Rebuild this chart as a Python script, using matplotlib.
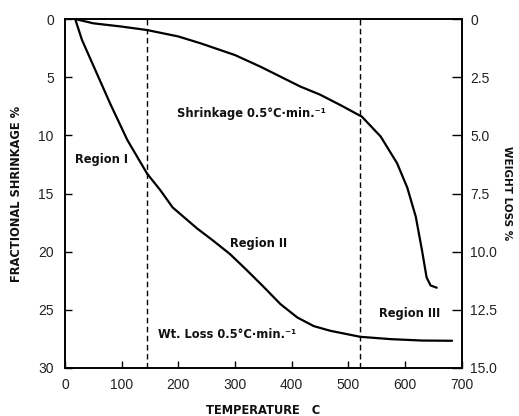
import matplotlib
matplotlib.use("Agg")
import matplotlib.pyplot as plt

# shrinkage curve (left axis, %)
shrink_temp = [18, 50, 100, 145, 200, 240, 300, 345, 415, 450, 486, 524, 557,
               586, 604, 619, 630, 638, 645, 656]
shrink_pct = [0, 0.37, 0.65, 0.95, 1.5, 2.1, 3.1, 4.1, 5.8, 6.5, 7.4, 8.4, 10.1,
              12.4, 14.5, 17.0, 19.9, 22.2, 22.9, 23.1]

# weight loss curve (right axis, %)
wt_temp = [18, 30, 50, 80, 110, 145, 168, 190, 233, 260, 291, 321, 350, 380,
           410, 439, 468, 521, 575, 630, 683]
wt_pct = [0, 0.9, 2.0, 3.65, 5.2, 6.65, 7.35, 8.1, 9.0, 9.5, 10.1, 10.8, 11.5, 12.25,
          12.83, 13.2, 13.4, 13.66, 13.76, 13.82, 13.83]

region_bounds = [145, 520]

x_ticks = [0, 100, 200, 300, 400, 500, 600, 700]
left_ticks = [0, 5, 10, 15, 20, 25, 30]
right_ticks = [0, 2.5, 5.0, 7.5, 10.0, 12.5, 15.0]
right_labels = ["0", "2.5", "5.0", "7.5", "10.0", "12.5", "15.0"]

tick_font = dict(family="Liberation Sans", size=10, color="#222222")
lab_font = dict(family="DejaVu Sans", weight="bold", size=8.3, color="#111111")
axis_font = dict(family="DejaVu Sans", weight="bold", size=8.3, color="#111111")

fig = plt.figure(figsize=(5.19, 4.16), dpi=100)
ax = fig.add_axes([0.1252, 0.1154, 0.7644, 0.8389])
ax2 = ax.twinx()

ax.plot(shrink_temp, shrink_pct, color="black", lw=1.6, solid_capstyle="round")
ax2.plot(wt_temp, wt_pct, color="black", lw=1.6, solid_capstyle="round")

for xv in region_bounds:
    ax.axvline(xv, color="black", lw=1.0, ls=(0, (4, 2.5)))

ax.set_xlim(0, 700)
ax.set_ylim(30, 0)
ax2.set_ylim(15, 0)

ax.set_xticks(x_ticks)
ax.set_xticklabels([str(v) for v in x_ticks], fontdict=tick_font)
ax.set_yticks(left_ticks)
ax.set_yticklabels([str(v) for v in left_ticks], fontdict=tick_font)
ax2.set_yticks(right_ticks)
ax2.set_yticklabels(right_labels, fontdict=tick_font)

ax.tick_params(axis="x", direction="in", length=5, width=1.0, pad=7, top=False)
ax.tick_params(axis="y", direction="in", length=5, width=1.0, pad=8)
ax2.tick_params(axis="y", direction="in", length=7, width=1.0, pad=6)

for a in (ax, ax2):
    for sp in a.spines.values():
        sp.set_linewidth(1.2)

ax.set_xlabel("TEMPERATURE   C", fontdict=axis_font, labelpad=9)
ax.set_ylabel("FRACTIONAL SHRINKAGE %", fontdict=axis_font, labelpad=11)
ax2.set_ylabel("WEIGHT LOSS %", family="DejaVu Sans", weight="bold", size=7.5,
               color="#111111", rotation=-90, labelpad=11)

ax.text(17, 12.1, "Region I", va="center", ha="left", **lab_font)
ax.text(292, 19.3, "Region II", va="center", ha="left", **lab_font)
ax.text(554, 25.3, "Region III", va="center", ha="left", **lab_font)
ax.text(197, 8.1, "Shrinkage 0.5°C·min.⁻¹", va="center", ha="left", **lab_font)
ax.text(165, 27.1, "Wt. Loss 0.5°C·min.⁻¹", va="center", ha="left", **lab_font)

fig.savefig("out.png", dpi=100)
